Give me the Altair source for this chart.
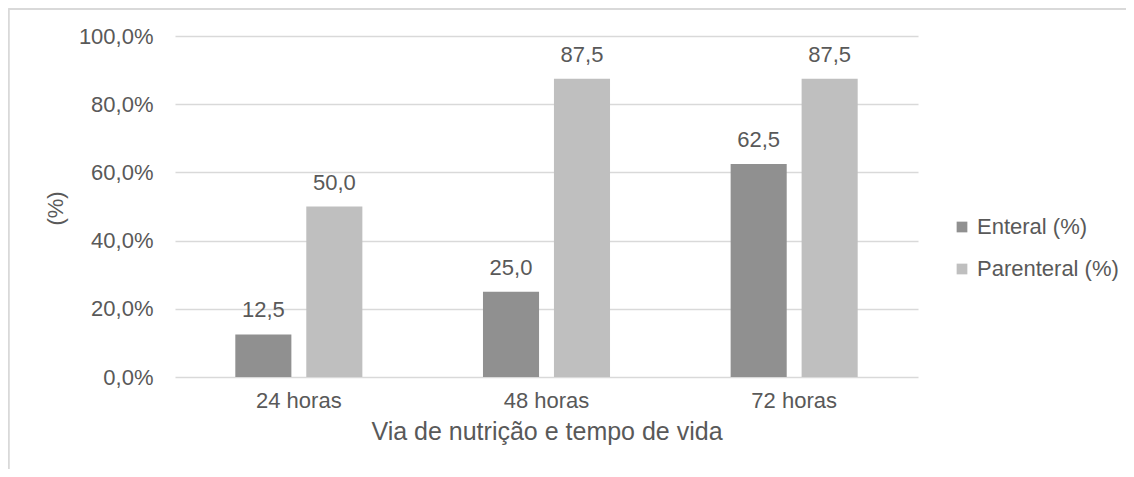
import altair as alt
import pandas as pd

categories = ["24 horas", "48 horas", "72 horas"]
series = ["Enteral (%)", "Parenteral (%)"]
enteral = [12.5, 25.0, 62.5]
parenteral = [50.0, 87.5, 87.5]
y_ticks = [0, 20, 40, 60, 80, 100]
colors = ["#909090", "#bfbfbf"]

rows = []
for c, e, p in zip(categories, enteral, parenteral):
    rows.append({"cat": c, "serie": series[0], "value": e})
    rows.append({"cat": c, "serie": series[1], "value": p})
df = pd.DataFrame(rows)

FONT = "Liberation Sans"
TXT = "#595959"
FS = 22

x_enc = alt.X("cat:N", sort=categories,
              scale=alt.Scale(paddingInner=0.487, paddingOuter=0.2435),
              axis=alt.Axis(title="Via de nutrição e tempo de vida", labelAngle=0,
                            labelFontSize=FS, labelColor=TXT, labelFont=FONT,
                            labelPadding=13, ticks=False, tickSize=0, domain=False,
                            titleFontSize=25, titleFont=FONT, titleColor=TXT,
                            titleFontWeight="normal", titlePadding=8))
xoff = alt.XOffset("serie:N", sort=series,
                   scale=alt.Scale(paddingInner=0.21, paddingOuter=0))
y_enc = alt.Y("value:Q", scale=alt.Scale(domain=[0, 100]),
              axis=alt.Axis(title="(%)", values=y_ticks,
                            labelExpr="replace(format(datum.value, '.1f'), '.', ',') + '%'",
                            labelFontSize=FS, labelColor=TXT, labelFont=FONT,
                            labelPadding=22, ticks=False, tickSize=0, domain=False,
                            grid=True, gridColor="#d9d9d9", gridWidth=1.3,
                            titleFontSize=FS, titleFont=FONT, titleColor=TXT,
                            titleFontWeight="normal", titleX=-120, titleY=172,
                            titleAlign="center", titleBaseline="middle"))
color_enc = alt.Color("serie:N", sort=series,
                      scale=alt.Scale(domain=series, range=colors),
                      legend=alt.Legend(title=None, orient="none", legendX=776, legendY=180,
                                        symbolType="square", symbolSize=115,
                                        symbolStrokeWidth=0, labelFontSize=FS,
                                        labelFont=FONT, labelColor=TXT, labelOffset=4,
                                        rowPadding=20))

base = alt.Chart(df)
bars = base.mark_bar().encode(x=x_enc, xOffset=xoff, y=y_enc, color=color_enc)
labels = base.mark_text(baseline="alphabetic", dy=-17, fontSize=FS, font=FONT,
                        color=TXT).transform_calculate(
    label="replace(format(datum.value, '.1f'), '.', ',')"
).encode(x=alt.X("cat:N", sort=categories), xOffset=alt.XOffset("serie:N", sort=series),
         y="value:Q", text="label:N")

border_top = base.mark_rule(color="#d9d9d9", strokeWidth=1.5).encode(
    x=alt.value(-166.5), x2=alt.value(960), y=alt.value(-27))
border_left = base.mark_rule(color="#d9d9d9", strokeWidth=1.5).encode(
    x=alt.value(-166.5), y=alt.value(-27), y2=alt.value(440))

chart = alt.layer(bars, labels, border_top, border_left).properties(
    width=743, height=341,
    autosize=alt.AutoSizeParams(type="none"),
    padding={"left": 167, "top": 28, "right": 208, "bottom": 92},
).configure_view(stroke="transparent")

chart.save("out.html", embed_options={"renderer": "svg", "actions": False})
